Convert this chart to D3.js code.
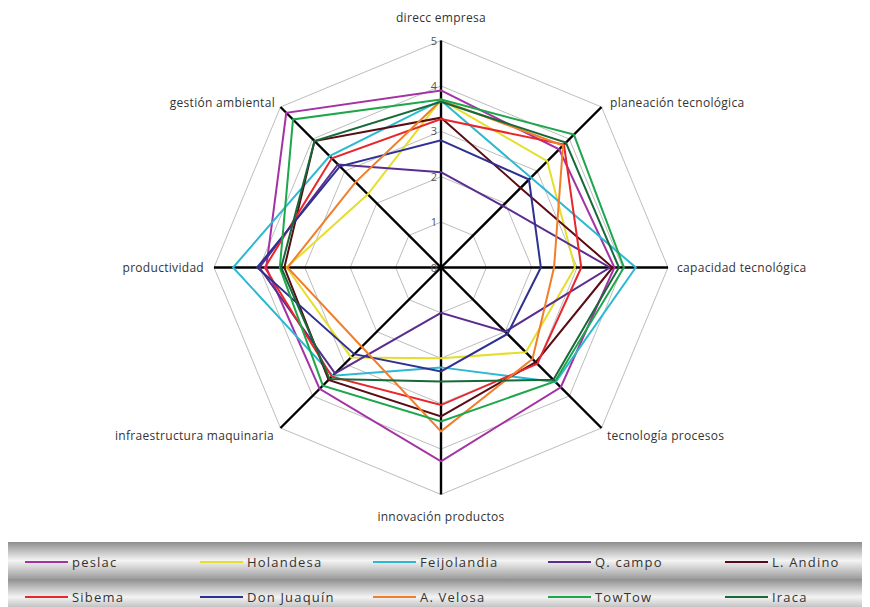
<!DOCTYPE html>
<html><head><meta charset="utf-8">
<script src="https://cdn.jsdelivr.net/npm/d3@7"></script>
<style>
html,body{margin:0;padding:0;background:#fff;}
svg{display:block;}
</style></head>
<body>
<svg id="chart" width="870" height="607"></svg>
<script>
const axes = ["direcc empresa","planeación tecnológica","capacidad tecnológica","tecnología procesos","innovación productos","infraestructura maquinaria","productividad","gestión ambiental"];
const ticks = [0,1,2,3,4,5];
const seriesNames = ["peslac","Holandesa","Feijolandia","Q. campo","L. Andino","Sibema","Don Juaquín","A. Velosa","TowTow","Iraca"];
const seriesColors = ["#A432A4","#E6DE2C","#2DB8D2","#5B2D8E","#5A0C16","#E8262B","#2E3192","#F07E2A","#1DA64C","#17693A"];
const peslac      = [3.90,3.68,3.82,3.73,4.27,3.78,3.85,4.82];
const holandesa   = [3.70,3.31,2.95,2.64,2.00,2.80,3.40,2.28];
const feijolandia = [3.68,2.80,4.29,3.57,2.20,3.37,4.58,3.47];
const qcampo      = [2.10,1.92,3.72,2.00,1.00,3.30,4.00,3.21];
const landino     = [3.30,2.48,3.78,2.95,3.28,3.50,3.45,3.94];
const sibema      = [3.27,3.83,3.09,3.00,3.03,3.40,3.88,3.40];
const donjuaquin  = [2.80,2.74,2.20,2.07,2.29,2.70,4.05,3.15];
const avelosa     = [3.68,3.80,2.49,2.85,3.61,2.47,3.38,2.66];
const towtow      = [3.70,4.14,4.03,3.55,3.39,3.68,3.55,4.61];
const iraca       = [3.65,3.89,3.92,3.50,2.51,3.47,3.52,3.94];
const seriesValues = [peslac,holandesa,feijolandia,qcampo,landino,sibema,donjuaquin,avelosa,towtow,iraca];

const svg = d3.select("#chart");
const cx = 441, cy = 267.5;
const r = d3.scaleLinear().domain([0,5]).range([0,227]);
const ang = d3.scaleLinear().domain([0,axes.length]).range([0,2*Math.PI]);
const pt = (i,v) => [cx + r(v)*Math.sin(ang(i)), cy - r(v)*Math.cos(ang(i))];

const g = svg.append("g");
// grid octagons
ticks.filter(t=>t>0).forEach(t=>{
  g.append("polygon")
   .attr("points", axes.map((a,i)=>pt(i,t).join(",")).join(" "))
   .attr("fill","none").attr("stroke","#bdbdbd").attr("stroke-width",1);
});
// axes
axes.forEach((a,i)=>{
  const p = pt(i,5);
  g.append("line").attr("x1",cx).attr("y1",cy).attr("x2",p[0]).attr("y2",p[1])
   .attr("stroke","#000").attr("stroke-width",2.4);
});
// tick labels
ticks.forEach(t=>{
  g.append("text").attr("x",cx-4).attr("y",cy - r(t)+4)
   .attr("text-anchor","end").attr("font-family","Open Sans, sans-serif")
   .attr("font-size",11).attr("fill","#555").text(t);
});
// series
const line = d3.line().curve(d3.curveLinearClosed);
seriesValues.forEach((vals,k)=>{
  g.append("path").attr("d", line(vals.map((v,i)=>pt(i,v))))
   .attr("fill","none").attr("stroke",seriesColors[k]).attr("stroke-width",2)
   .attr("stroke-linejoin","miter");
});
// axis labels
const labelPos = [
  {x:441,y:22,a:"middle"},
  {x:610,y:107,a:"start"},
  {x:677,y:272,a:"start"},
  {x:607,y:440,a:"start"},
  {x:441,y:521,a:"middle"},
  {x:274,y:440,a:"end"},
  {x:204,y:272,a:"end"},
  {x:275,y:107,a:"end"}
];
axes.forEach((a,i)=>{
  g.append("text").attr("x",labelPos[i].x).attr("y",labelPos[i].y)
   .attr("text-anchor",labelPos[i].a).attr("font-family","Open Sans, sans-serif")
   .attr("font-size",12).attr("letter-spacing",0.3).attr("fill","#333").text(a);
});
// legend
const defs = svg.append("defs");
const grad = defs.append("linearGradient").attr("id","lg").attr("x1",0).attr("y1",0).attr("x2",0).attr("y2",1);
grad.append("stop").attr("offset","0%").attr("stop-color","#8e8e8e");
grad.append("stop").attr("offset","50%").attr("stop-color","#f4f4f4");
grad.append("stop").attr("offset","100%").attr("stop-color","#9c9c9c");
svg.append("rect").attr("x",8).attr("y",542).attr("width",854).attr("height",37).attr("fill","url(#lg)");
svg.append("rect").attr("x",8).attr("y",579).attr("width",854).attr("height",36).attr("fill","url(#lg)");
const colX = [25,200,373,548,725];
const rowY = [562,597];
seriesNames.forEach((n,k)=>{
  const col = k%5, row = Math.floor(k/5);
  const lg = svg.append("g");
  lg.append("line").attr("x1",colX[col]).attr("x2",colX[col]+43)
    .attr("y1",rowY[row]).attr("y2",rowY[row])
    .attr("stroke",seriesColors[k]).attr("stroke-width",2);
  lg.append("text").attr("x",colX[col]+47).attr("y",rowY[row]+4.5)
    .attr("font-family","Open Sans, sans-serif").attr("font-size",13)
    .attr("letter-spacing",1.2).attr("fill","#333").text(n);
});
</script>
</body></html>
